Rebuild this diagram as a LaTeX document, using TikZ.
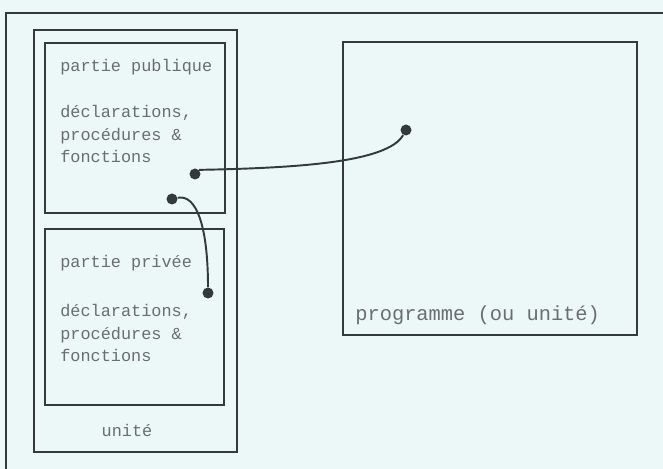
\documentclass[tikz,border=0pt]{standalone}
\usepackage{fontspec}
\setmonofont{Liberation Mono}
\definecolor{paper}{RGB}{236,248,248}
\definecolor{ink}{RGB}{50,58,58}
\definecolor{type}{RGB}{105,110,110}
\begin{document}
\begin{tikzpicture}[x=0.02cm, y=-0.02cm,
  frame/.style={draw=ink, line width=1.1pt, inner sep=0pt},
  label/.style={font=\ttfamily\fontsize{9.6}{13}\selectfont, text=type, align=left, inner sep=0pt},
  dot/.style={circle, fill=ink, inner sep=0pt, minimum size=0.22cm},
  link/.style={draw=ink, line width=1.1pt}
]
  % ===== Background and page frame =====
  \useasboundingbox (0,0) rectangle (663,469);
  \clip (0,0) rectangle (663,469);
  \fill[paper] (0,0) rectangle (663,469);
  \draw[ink, line width=0.9pt] (700,13) -- (6,13) -- (6,500);

  % ===== Unit with its two parts =====
  \node[frame, minimum width=4.06cm, minimum height=8.44cm] (unit) at (135.5,241) {};
  \node[frame, minimum width=3.6cm, minimum height=3.4cm] (pub) at (135,128) {};
  \node[frame, minimum width=3.58cm, minimum height=3.52cm] (priv) at (134.5,317) {};

  \node[label, anchor=west] (pubtitle) at (60,67) {partie publique};
  \node[label, anchor=west] (pubbody) at (60,134) {déclarations,\\procédures \&\\fonctions};
  \node[label, anchor=west] (privtitle) at (60,263) {partie privée};
  \node[label, anchor=west] (privbody) at (60,333) {déclarations,\\procédures \&\\fonctions};
  \node[label] (unitname) at (127,430) {unité};

  % ===== Program =====
  \node[frame, minimum width=5.88cm, minimum height=5.86cm] (prog) at (490,188.5) {};
  \node[label, font=\ttfamily\fontsize{11.6}{14}\selectfont, anchor=west] (progname) at (355,315) {programme (ou unité)};

  % ===== Links =====
  \node[dot] (pubdot) at (195,174) {};
  \node[dot] (progdot) at (406,130) {};
  \node[dot] (srcdot) at (172,199) {};
  \node[dot] (privdot) at (208,293) {};

  \draw[link] (pubdot.north east) .. controls (300,168) and (388,162) .. (progdot);
  \draw[link] (srcdot) .. controls (196,194) and (208,225) .. (privdot);
\end{tikzpicture}
\end{document}
